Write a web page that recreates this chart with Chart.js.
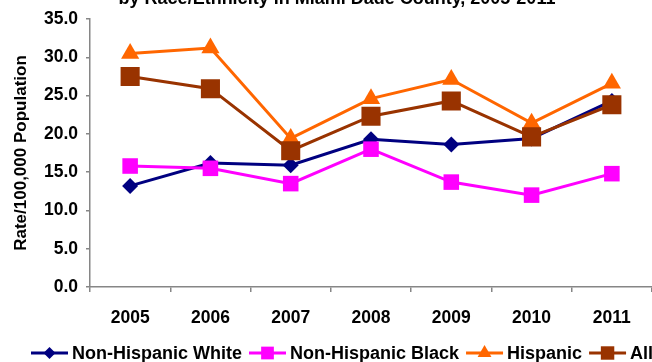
<!DOCTYPE html>
<html>
<head>
<meta charset="utf-8">
<script src="https://cdn.jsdelivr.net/npm/chart.js@4/dist/chart.umd.min.js"></script>
<style>
  html, body { margin: 0; padding: 0; background: #fff; overflow: hidden; }
  #wrap { width: 652px; height: 362px; }
</style>
</head>
<body>
<div id="wrap"><canvas id="rateChart" width="652" height="362"></canvas></div>
<script>
const years = ['2005', '2006', '2007', '2008', '2009', '2010', '2011'];
const nhWhite = [13.2, 16.2, 15.9, 19.3, 18.6, 19.4, 24.3];
const nhBlack = [15.8, 15.5, 13.5, 18.0, 13.7, 12.0, 14.8];
const hispanic = [30.5, 31.2, 19.4, 24.6, 27.1, 21.4, 26.6];
const allRaces = [27.5, 25.9, 17.8, 22.3, 24.3, 19.6, 23.8];
const yTicks = [0, 5, 10, 15, 20, 25, 30, 35];

const FONT = '"Liberation Sans", Arial, sans-serif';
const AXIS_GREY = '#868686';

// title sits mostly above the canvas, only its lower line shows
const titlePlugin = {
    id: 'topTitle',
    afterDraw(chart) {
        const ctx = chart.ctx;
        ctx.save();
        ctx.font = 'bold 18px ' + FONT;
        ctx.fillStyle = '#000';
        ctx.textAlign = 'center';
        ctx.textBaseline = 'alphabetic';
        ctx.fillText('by Race/Ethnicity in Miami Dade County, 2005-2011', 337, 4);
        ctx.restore();
    }
};

// legend row along the bottom, allowed to run off the right edge
const bottomLegend = {
    id: 'bottomLegend',
    afterDraw(chart) {
        const ctx = chart.ctx;
        const y = 353;
        let x = 31;
        ctx.save();
        ctx.font = 'bold 18px ' + FONT;
        ctx.textBaseline = 'middle';
        ctx.textAlign = 'left';
        chart.data.datasets.forEach(ds => {
            ctx.strokeStyle = ds.borderColor;
            ctx.lineWidth = 3;
            ctx.beginPath();
            ctx.moveTo(x, y);
            ctx.lineTo(x + 37, y);
            ctx.stroke();
            ctx.fillStyle = ds.pointBackgroundColor;
            ctx.strokeStyle = ds.pointBackgroundColor;
            Chart.helpers.drawPoint(ctx, {
                pointStyle: ds.pointStyle,
                radius: ds.legendRadius,
                borderWidth: 0,
                rotation: 0
            }, x + 18.5, y);
            x += 41;
            ctx.fillStyle = '#000';
            ctx.fillText(ds.label, x, y + 1);
            x += ctx.measureText(ds.label).width + 7;
        });
        ctx.restore();
    }
};

function series(label, data, color, style, radius, legendRadius, order) {
    return {
        label: label,
        data: data,
        borderColor: color,
        backgroundColor: color,
        pointBackgroundColor: color,
        pointBorderColor: color,
        pointBorderWidth: 0,
        borderWidth: 3,
        pointStyle: style,
        pointRadius: radius,
        pointHoverRadius: radius,
        legendRadius: legendRadius,
        tension: 0,
        order: order
    };
}

new Chart(document.getElementById('rateChart'), {
    type: 'line',
    data: {
        labels: years,
        datasets: [
            series('Non-Hispanic White', nhWhite, '#000080', 'rectRot', 8, 6, 3),
            series('Non-Hispanic Black', nhBlack, '#FF00FF', 'rect', 11, 9, 2),
            series('Hispanic', hispanic, '#FF6600', 'triangle', 10.5, 8, 1),
            series('All', allRaces, '#993300', 'rect', 13.5, 9.5, 0)
        ]
    },
    options: {
        responsive: false,
        animation: false,
        layout: {
            autoPadding: false,
            padding: { top: 19, right: -4, bottom: 0, left: 0 }
        },
        plugins: {
            legend: { display: false },
            title: { display: false },
            tooltip: { enabled: false }
        },
        scales: {
            x: {
                offset: true,
                afterFit(scale) {
                    scale.height = 75;
                    scale.paddingLeft = 0;
                    scale.paddingRight = 0;
                },
                grid: {
                    offset: true,
                    drawOnChartArea: false,
                    drawTicks: true,
                    tickLength: 5,
                    color: AXIS_GREY,
                    lineWidth: 1.5
                },
                border: { color: AXIS_GREY, width: 1.5 },
                ticks: {
                    color: '#000',
                    font: { family: FONT, size: 17.5, weight: 'bold' },
                    padding: 16,
                    maxRotation: 0
                }
            },
            y: {
                min: 0,
                max: 35,
                afterFit(scale) { scale.width = 90; },
                afterBuildTicks(scale) { scale.ticks = yTicks.map(v => ({ value: v })); },
                grid: {
                    drawOnChartArea: false,
                    drawTicks: true,
                    tickLength: 4,
                    color: AXIS_GREY,
                    lineWidth: 1.5
                },
                border: { color: AXIS_GREY, width: 1.5 },
                ticks: {
                    color: '#000',
                    font: { family: FONT, size: 17.5, weight: 'bold' },
                    padding: 8,
                    callback: v => v.toFixed(1)
                },
                title: {
                    display: true,
                    text: 'Rate/100,000 Population',
                    color: '#000',
                    font: { family: FONT, size: 17, weight: 'bold' },
                    padding: { top: 11, bottom: 0 }
                }
            }
        }
    },
    plugins: [titlePlugin, bottomLegend]
});
</script>
</body>
</html>
